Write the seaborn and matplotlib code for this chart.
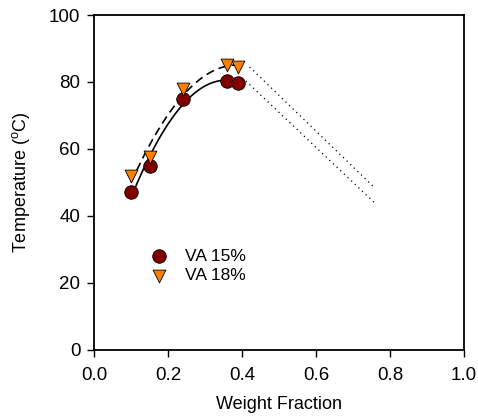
import matplotlib
matplotlib.use("Agg")
import matplotlib.pyplot as plt
import pandas as pd
import seaborn as sns

sns.set_style("ticks")
plt.rcParams["font.family"] = ["Liberation Sans", "DejaVu Sans"]
plt.rcParams["text.color"] = "black"
plt.rcParams["axes.labelcolor"] = "black"

# 数据
wf_15 = [0.10, 0.15, 0.24, 0.36, 0.39]
temp_15 = [47, 55, 75, 80.3, 79.8]
wf_18 = [0.10, 0.15, 0.24, 0.36, 0.39]
temp_18 = [52, 57.5, 78, 85, 84.5]

# 外推点线端点
ext_x_15 = [0.41, 0.76]
ext_y_15 = [80.3, 43.7]
ext_x_18 = [0.42, 0.76]
ext_y_18 = [84.5, 48.2]

df15 = pd.DataFrame({"wf": wf_15, "temp": temp_15})
df18 = pd.DataFrame({"wf": wf_18, "temp": temp_18})

fig = plt.figure(figsize=(4.78, 4.17), dpi=100)
ax = fig.add_axes([0.197, 0.161, 0.774, 0.803])

sns.regplot(data=df15, x="wf", y="temp", order=2, ci=None, scatter=False,
            truncate=True, line_kws={"color": "black", "lw": 1.2, "ls": "-"}, ax=ax)
sns.regplot(data=df18, x="wf", y="temp", order=2, ci=None, scatter=False,
            truncate=True, line_kws={"color": "black", "lw": 1.2, "ls": (0, (5, 3))}, ax=ax)
sns.lineplot(x=ext_x_15, y=ext_y_15, color="black", lw=0.9, ls=(0, (1, 3)), ax=ax)
sns.lineplot(x=ext_x_18, y=ext_y_18, color="black", lw=0.9, ls=(0, (1, 3)), ax=ax)

sns.scatterplot(x=wf_15, y=temp_15, marker="o", s=95, color="#800000",
                edgecolor="black", linewidth=0.6, label="VA 15%", zorder=3, ax=ax)
sns.scatterplot(x=wf_18, y=temp_18, marker="v", s=85, color="#ff8000",
                edgecolor="black", linewidth=0.6, label="VA 18%", zorder=3, ax=ax)

ax.set_xlim(0, 1.0)
ax.set_ylim(0, 100)
ax.set_xticks([0.0, 0.2, 0.4, 0.6, 0.8, 1.0])
ax.set_yticks([0, 20, 40, 60, 80, 100])
ax.set_xticklabels(["0.0", "0.2", "0.4", "0.6", "0.8", "1.0"])
ax.tick_params(direction="out", length=5, width=1, labelsize=13.5, colors="black")
ax.tick_params(axis="x", pad=7)
ax.tick_params(axis="y", pad=5)
for sp in ax.spines.values():
    sp.set_visible(True)
    sp.set_linewidth(1.3)
    sp.set_color("black")

ax.set_xlabel("Weight Fraction", fontsize=13, labelpad=9)
ax.set_ylabel("Temperature ($^\\mathregular{o}$C)", fontsize=13, labelpad=12)

ax.legend(loc="center left", bbox_to_anchor=(0.085, 0.25), frameon=False,
          fontsize=12.5, handletextpad=0.5, labelspacing=0.25)

fig.savefig("out.png", dpi=100)
